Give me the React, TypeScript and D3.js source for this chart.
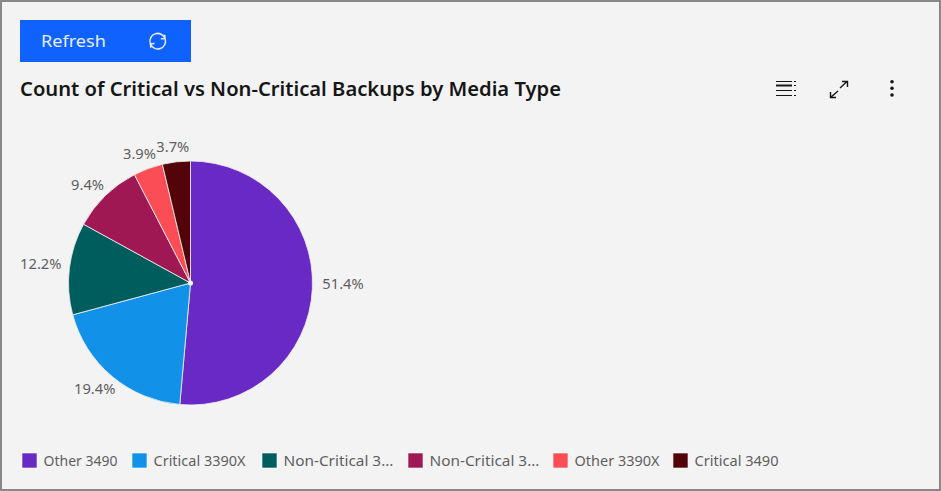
import React from "react";
import * as d3 from "d3";

// Backup share by media type
const categories = ["Other 3490", "Critical 3390X", "Non-Critical 3390X", "Non-Critical 3490", "Other 3390X", "Critical 3490"];
const legendLabels = ["Other 3490", "Critical 3390X", "Non-Critical 3...", "Non-Critical 3...", "Other 3390X", "Critical 3490"];
const shares = [51.4, 19.4, 12.2, 9.4, 3.9, 3.7];
const palette = ["#6929c4", "#1192e8", "#005d5d", "#9f1853", "#fa4d56", "#520408"];

const WIDTH = 941;
const HEIGHT = 491;
const FONT = "'Noto Sans', 'Open Sans', sans-serif";
const INK = "#161616";
const MUTED = "#5f5f5f";

const CENTER = { x: 190.5, y: 283 };
const RADIUS = 122;
const LABEL_RADIUS = 131;

// Label nudges that keep the narrow top slices' labels apart and clear of the rim
const labelShift = [[1, -4], [9, 7], [1, -2], [5, -3], [11, -5], [14, -5]];
const legendX = [22, 132, 262, 408, 553, 673];
const legendTextWidth = [74, 92, 110, 110, 85, 84];

function RefreshIcon({ x, y }: { x: number; y: number }) {
  const upper = d3.arc()({ innerRadius: 7.8, outerRadius: 7.8, startAngle: -1.85, endAngle: 1.15 }) as string;
  const lower = d3.arc()({ innerRadius: 7.8, outerRadius: 7.8, startAngle: 1.29, endAngle: 4.29 }) as string;
  return (
    <g transform={`translate(${x},${y})`} fill="none" stroke="#e8efff" strokeWidth={1.5}>
      <path d={upper} />
      <path d={lower} />
      <path d="M7,-6.5 L7.2,-2.6 L3.2,-2.4" />
      <path d="M-7,6.5 L-7.2,2.6 L-3.2,2.4" />
    </g>
  );
}

export default function App() {
  const slices = d3
    .pie<number>()
    .sort(null)
    .value((d) => d)(shares);
  const arc = d3.arc<d3.PieArcDatum<number>>().innerRadius(0).outerRadius(RADIUS);

  return (
    <svg
      width={WIDTH}
      height={HEIGHT}
      viewBox={`0 0 ${WIDTH} ${HEIGHT}`}
      style={{ position: "absolute", left: 0, top: 0, fontFamily: FONT }}
    >
      <rect x={0} y={0} width={WIDTH} height={HEIGHT} fill="#ffffff" />
      <rect x={1} y={1} width={939} height={489} fill="#f3f3f3" stroke="#7d7d7d" strokeWidth={1.8} />

      {/* Refresh button */}
      <rect x={20} y={20} width={171} height={42} fill="#0f62fe" />
      <text x={41} y={47} fontSize={17} fill="#e8efff" textLength={65} lengthAdjust="spacingAndGlyphs">
        Refresh
      </text>
      <RefreshIcon x={157.7} y={41.2} />

      <text x={20} y={96} fontSize={20} fontWeight={600} fill={INK} textLength={541} lengthAdjust="spacingAndGlyphs">
        Count of Critical vs Non-Critical Backups by Media Type
      </text>

      {/* Toolbar: legend toggle, expand, overflow */}
      <g stroke="#161616" fill="none">
        <path d="M776,81.5H792M776,90.5H792M776,95.5H792" strokeWidth={1.2} />
        <path d="M776,85.5H792" strokeWidth={2} />
        <path d="M794,81.5H796M794,85.5H796M794,90.5H796M794,95.5H796" strokeWidth={1.2} />
        <path d="M840,88L847,81.5M842,81.5H847.5V87" strokeWidth={1.4} />
        <path d="M838,91L830.5,97.5M830.5,92V97.5H836" strokeWidth={1.4} />
      </g>
      <g fill="#161616">
        <circle cx={892} cy={81.7} r={1.8} />
        <circle cx={892} cy={88.3} r={1.8} />
        <circle cx={892} cy={95} r={1.8} />
      </g>

      {/* Pie slices */}
      <g transform={`translate(${CENTER.x},${CENTER.y})`}>
        {slices.map((s, i) => (
          <path key={categories[i]} d={arc(s) as string} fill={palette[i]} stroke="#f3f3f3" strokeWidth={0.8} />
        ))}
        <circle r={2.6} fill="#f3f3f3" />
        {slices.map((s, i) => {
          const mid = (s.startAngle + s.endAngle) / 2;
          const px = Math.sin(mid) * LABEL_RADIUS + labelShift[i][0];
          const py = -Math.cos(mid) * LABEL_RADIUS + labelShift[i][1];
          return (
            <text
              key={categories[i]}
              x={px}
              y={py}
              fontSize={14.7}
              fill={MUTED}
              dominantBaseline="middle"
              textAnchor={Math.sin(mid) >= 0 ? "start" : "end"}
            >
              {`${shares[i]}%`}
            </text>
          );
        })}
      </g>

      {/* Legend */}
      {legendLabels.map((label, i) => (
        <g key={i} transform={`translate(${legendX[i]},453)`}>
          <rect width={15} height={15} fill={palette[i]} stroke="#ffffff" strokeWidth={0.6} />
          <text x={21.5} y={13} fontSize={14.4} fill={MUTED} textLength={legendTextWidth[i]} lengthAdjust="spacingAndGlyphs">
            {label}
          </text>
        </g>
      ))}
    </svg>
  );
}
